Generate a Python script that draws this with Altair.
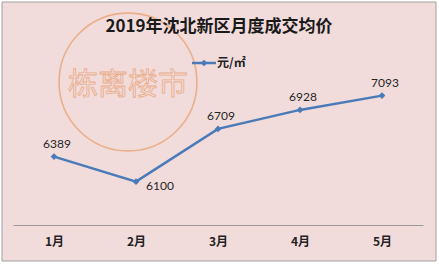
import altair as alt
import pandas as pd

months = ["1月", "2月", "3月", "4月", "5月"]
prices = [6389, 6100, 6709, 6928, 7093]
series_name = "元/㎡"
title_text = "2019年沈北新区月度成交均价"
watermark_text = "栋离楼市"

df = pd.DataFrame({"month": months, "price": prices})
one = pd.DataFrame({"k": [0]})

BLUE = "#4a7ab8"
CJK = "Noto Sans CJK SC"

bg = alt.Chart(one).mark_rect(fill="#f2dcdb", stroke="#a0a0a0", strokeWidth=1).encode(
    x=alt.value(2), x2=alt.value(436), y=alt.value(2), y2=alt.value(261)
)

wm_circle = alt.Chart(one).mark_point(
    shape="circle", filled=False, stroke="#e8a070", strokeWidth=1.6, opacity=0.75, size=19000
).encode(x=alt.value(128), y=alt.value(82))

wm_text = alt.Chart(pd.DataFrame({"t": [watermark_text]})).mark_text(
    font=CJK, fontSize=30, fill="#f2dcdb", stroke="#e8a070", strokeWidth=0.8, opacity=0.8,
    align="center", baseline="middle"
).encode(text="t:N", x=alt.value(128), y=alt.value(85))

title = alt.Chart(pd.DataFrame({"t": [title_text]})).mark_text(
    font=CJK, fontSize=17, fontWeight="bold", color="#1a1a1a", align="center", baseline="middle"
).encode(text="t:N", x=alt.value(219), y=alt.value(27))

leg_line = alt.Chart(one).mark_rule(color=BLUE, strokeWidth=2.5).encode(
    x=alt.value(192), x2=alt.value(216), y=alt.value(63)
)
leg_pt = alt.Chart(one).mark_point(shape="diamond", filled=True, color=BLUE, size=45, opacity=1).encode(
    x=alt.value(204), y=alt.value(63)
)
leg_text = alt.Chart(pd.DataFrame({"t": [series_name]})).mark_text(
    font=CJK, fontSize=12, fontWeight="bold", color="#222", align="left", baseline="middle"
).encode(text="t:N", x=alt.value(217), y=alt.value(63))

xs = alt.X(
    "month:N", sort=months,
    scale=alt.Scale(type="point", range=[13, 423], padding=0.5),
    axis=alt.Axis(
        title=None, orient="bottom", offset=-39, ticks=False, domainColor="#9a9a9a",
        domainWidth=1, labelFont=CJK, labelFontSize=12, labelFontWeight="bold",
        labelColor="#222", labelPadding=11, labelAngle=0, grid=False, zindex=1,
    ),
)
ys = alt.Y("price:Q", scale=alt.Scale(domain=[5600, 7400], range=[225, 69]), axis=None)

line = alt.Chart(df).mark_line(color=BLUE, strokeWidth=2.5).encode(x=xs, y=ys)
pts = alt.Chart(df).mark_point(shape="diamond", filled=True, color=BLUE, size=45, opacity=1).encode(
    x=alt.X("month:N", sort=months), y="price:Q"
)
lab_above = alt.Chart(df).transform_filter(alt.datum.month != "2月").mark_text(
    font="Lato", fontSize=12, color="#262626", align="center", baseline="bottom", dy=-6, dx=3
).encode(x=alt.X("month:N", sort=months), y="price:Q", text="price:Q")
lab_right = alt.Chart(df).transform_filter(alt.datum.month == "2月").mark_text(
    font="Lato", fontSize=12, color="#262626", align="left", baseline="middle", dx=10, dy=4
).encode(x=alt.X("month:N", sort=months), y="price:Q", text="price:Q")

chart = alt.layer(
    bg, wm_circle, wm_text, title, leg_line, leg_pt, leg_text, line, pts, lab_above, lab_right
).properties(
    width=439, height=264, autosize=alt.AutoSizeParams(type="none"), padding=0,
    background="white",
).configure_view(stroke=None)

chart.save("out.html", embed_options={"renderer": "svg", "actions": False})
